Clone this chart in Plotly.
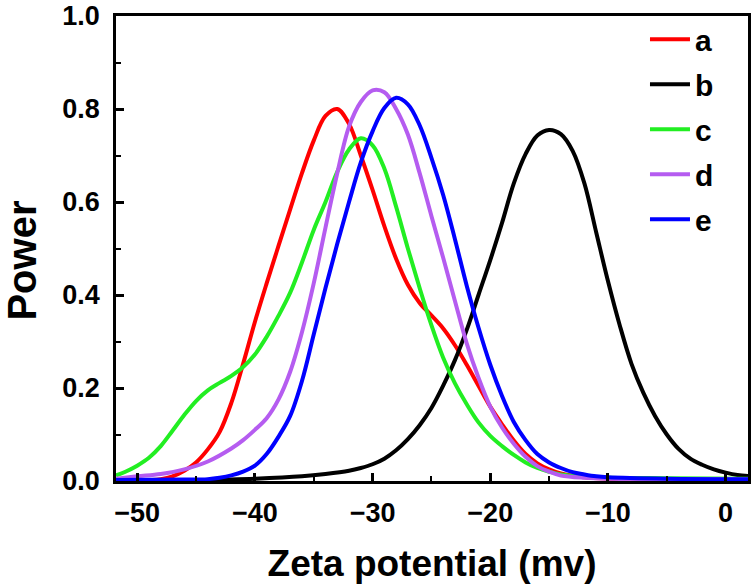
import plotly.graph_objects as go

# ---- data ----
x_a = [-51.8, -49, -48, -47, -46, -45, -44, -43, -42, -41, -40, -39, -38, -37, -36, -35, -34, -33, -32, -31, -30,
       -29, -28, -27, -26, -25, -24, -23, -22, -21, -20, -19, -18, -17, -16, -15, -14, -12, -10, -5, 1.9]
y_a = [0.0, 0.002, 0.004, 0.01, 0.022, 0.04, 0.068, 0.105, 0.168, 0.252, 0.342, 0.425, 0.505, 0.584, 0.662, 0.732, 0.785, 0.80, 0.768, 0.7, 0.626,
       0.548, 0.478, 0.422, 0.383, 0.356, 0.328, 0.292, 0.25, 0.205, 0.16, 0.122, 0.087, 0.058, 0.038, 0.025, 0.016, 0.008, 0.005, 0.003, 0.002]

x_b = [-51.8, -45, -40, -36, -34, -32, -31, -30, -29, -28, -27, -26, -25, -24, -23, -22, -21, -20, -19, -18, -17, -16, -15,
       -14, -13, -12, -11, -10, -9, -8, -7, -6, -5, -4, -3, -2, -1, 0, 1, 1.9]
y_b = [0.0, 0.002, 0.005, 0.01, 0.015, 0.022, 0.028, 0.036, 0.048, 0.066, 0.09, 0.12, 0.157, 0.205, 0.26, 0.325, 0.4, 0.475, 0.555, 0.64, 0.703, 0.743, 0.755,
       0.746, 0.71, 0.64, 0.535, 0.43, 0.335, 0.252, 0.19, 0.14, 0.1, 0.069, 0.048, 0.035, 0.025, 0.018, 0.013, 0.011]

x_c = [-51.8, -51, -50, -49, -48, -47, -46, -45, -44, -43, -42, -41, -40, -39, -38, -37, -36, -35, -34, -33, -32, -31, -30,
       -29, -28, -27, -26, -25, -24, -23, -22, -21, -20, -19, -18, -17, -16, -15, -14, -12, -10, -5, 1.9]
y_c = [0.012, 0.02, 0.033, 0.05, 0.075, 0.108, 0.142, 0.172, 0.195, 0.211, 0.226, 0.245, 0.272, 0.31, 0.355, 0.405, 0.47, 0.54, 0.6, 0.665, 0.713, 0.737, 0.722,
       0.672, 0.59, 0.5, 0.415, 0.335, 0.265, 0.21, 0.165, 0.126, 0.097, 0.075, 0.056, 0.04, 0.028, 0.02, 0.014, 0.009, 0.007, 0.006, 0.005]

x_d = [-51.8, -50, -48, -46, -44, -42, -41, -40, -39, -38, -37, -36, -35, -34, -33, -32, -31, -30, -29, -28,
       -27, -26, -25, -24, -23, -22, -21, -20, -19, -18, -17, -16, -15, -14, -12, -10, 1.9]
y_d = [0.005, 0.01, 0.015, 0.025, 0.042, 0.07, 0.088, 0.11, 0.135, 0.175, 0.235, 0.32, 0.425, 0.545, 0.662, 0.762, 0.815, 0.84, 0.836, 0.8,
       0.745, 0.662, 0.57, 0.48, 0.387, 0.296, 0.222, 0.16, 0.115, 0.08, 0.052, 0.032, 0.02, 0.012, 0.007, 0.005, 0.004]

x_e = [-51.8, -46, -44, -43, -42, -41, -40, -39, -38, -37, -36, -35, -34, -33, -32, -31, -30, -29, -28, -27, -26, -25,
       -24, -23, -22, -21, -20, -19, -18, -17, -16, -15, -14, -13, -12, -11, -10, -5, 1.9]
y_e = [0.002, 0.003, 0.004, 0.007, 0.012, 0.02, 0.033, 0.058, 0.095, 0.14, 0.215, 0.315, 0.415, 0.51, 0.6, 0.685, 0.752, 0.802, 0.824, 0.81, 0.765, 0.695,
       0.615, 0.52, 0.42, 0.33, 0.25, 0.183, 0.127, 0.088, 0.058, 0.04, 0.028, 0.019, 0.014, 0.01, 0.008, 0.005, 0.004]

series = [
    ("a", x_a, y_a, "#ff0000"),
    ("b", x_b, y_b, "#000000"),
    ("c", x_c, y_c, "#22ee22"),
    ("d", x_d, y_d, "#b55cf0"),
    ("e", x_e, y_e, "#0000ff"),
]

x_ticks = [-50, -40, -30, -20, -10, 0]
y_ticks = [0.0, 0.2, 0.4, 0.6, 0.8, 1.0]

FONT = "Liberation Sans"

fig = go.Figure()
for name, xs, ys, col in series:
    fig.add_trace(go.Scatter(
        x=xs, y=ys, mode="lines", name=name, legendgroup=name,
        line=dict(color=col, width=4, shape="spline", smoothing=1.0),
    ))

axis_common = dict(
    showline=True, linecolor="black", linewidth=2.5, mirror=True,
    showgrid=False, zeroline=False, automargin=False,
    ticks="inside", ticklen=8, tickwidth=2.5, tickcolor="black",
    ticklabeloverflow="allow",
    tickfont=dict(family=FONT, size=27, color="black", weight="bold"),
)

fig.update_xaxes(
    range=[-51.8, 1.9], tickvals=x_ticks,
    minor=dict(dtick=5, tick0=0, ticks="inside", ticklen=5, tickwidth=2, tickcolor="black"),
    ticklabelstandoff=6,
    title=dict(text="Zeta potential (mv)", font=dict(family=FONT, size=37, color="black", weight="bold"), standoff=28),
    **axis_common,
)
fig.update_yaxes(
    range=[0, 1.0], tickvals=y_ticks, tickformat=".1f",
    minor=dict(dtick=0.1, tick0=0, ticks="inside", ticklen=5, tickwidth=2, tickcolor="black"),
    ticklabelstandoff=8,
    **axis_common,
)

fig.update_layout(
    width=756, height=584,
    margin=dict(l=116, r=8, t=16, b=103),
    plot_bgcolor="white", paper_bgcolor="white",
    showlegend=True,
    legend=dict(
        x=0.837, y=1.006, xanchor="left", yanchor="top",
        bgcolor="rgba(0,0,0,0)", borderwidth=0,
        font=dict(family=FONT, size=30, color="black", weight="bold"),
        tracegroupgap=3, itemwidth=40,
    ),
    annotations=[dict(
        text="Power", textangle=-90, showarrow=False,
        xref="paper", yref="paper", x=-0.148, y=0.475,
        xanchor="center", yanchor="middle",
        font=dict(family=FONT, size=40, color="black", weight="bold"),
    )],
)

# remove the browser's default page margin so the figure sits at the window's corner
fig.write_html("out.html", config={"displayModeBar": False},
               post_script="document.body.style.margin='0';")
